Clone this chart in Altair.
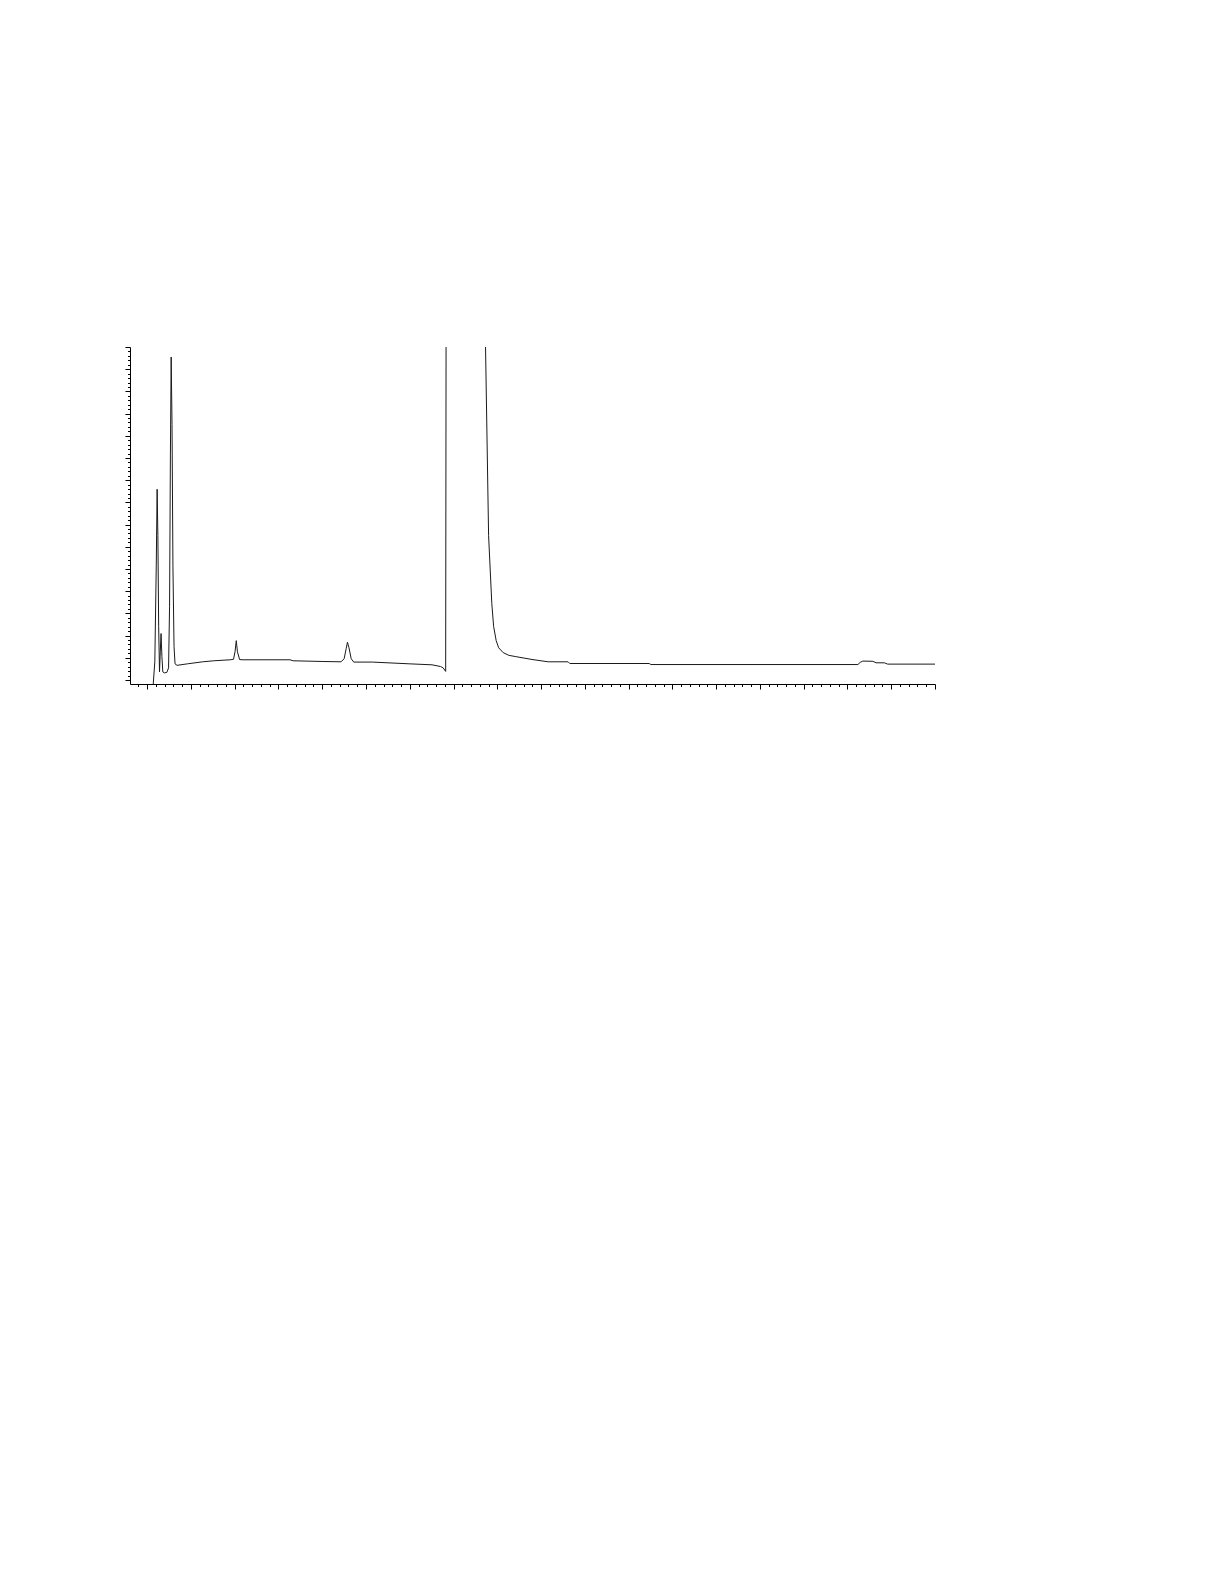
import altair as alt
import pandas as pd

# Retention time (min) and detector signal (arbitrary units)
time_min = [0.134, 0.175, 0.208, 0.228, 0.245, 0.263, 0.282, 0.300, 0.318, 0.337,
            0.358, 0.392, 0.450, 0.489, 0.512, 0.531, 0.549, 0.568, 0.589, 0.614,
            0.637, 0.683, 0.923, 1.269, 1.523, 1.899, 1.973, 2.008, 2.036, 2.063,
            2.112, 2.192, 3.263, 3.337, 4.016, 4.431, 4.500, 4.547, 4.576, 4.611,
            4.662, 4.720, 5.147, 5.987, 6.508, 6.704, 6.762, 6.820, 6.845, 7.270,
            7.651, 7.731, 7.801, 7.874, 7.916, 7.974, 8.031, 8.135, 8.262, 8.424,
            8.793, 9.162, 9.617, 9.656, 11.470, 11.509, 16.238, 16.293, 16.351, 16.580,
            16.654, 16.843, 16.919, 18.0]
signal = [-3.18, 8.18, 51.4, 85.9, 65.0, 24.1, 3.64, 12.7, 20.9, 10.5,
          3.64, 3.18, 3.41, 5.45, 33.2, 101.4, 145.5, 115.0, 51.4, 15.0,
          7.27, 6.59, 7.27, 8.18, 8.64, 9.09, 9.32, 12.7, 17.7, 12.7,
          9.18, 9.09, 9.09, 8.64, 8.32, 8.18, 9.55, 14.1, 17.0, 14.5,
          9.55, 8.05, 8.05, 7.27, 6.82, 6.05, 5.45, 3.86, 400.0, 600.0,
          250.0, 150.0, 65.0, 34.5, 24.1, 17.7, 14.5, 12.3, 11.1, 10.5,
          9.23, 8.18, 8.18, 7.41, 7.41, 6.95, 6.95, 7.95, 8.50, 8.41,
          7.73, 7.73, 7.14, 7.14]

x_tick_values = [round(-0.2 + 0.2 * k, 1) for k in range(0, 92)]
y_tick_values = list(range(0, 152, 2))

df = pd.DataFrame({"t": time_min, "s": signal})

x_axis = alt.Axis(
    title=None, labels=False, grid=False, values=x_tick_values,
    domainColor="#000000", tickColor="#000000", domainWidth=1, tickWidth=1,
    tickSize={"condition": {"test": "abs(datum.value - round(datum.value)) < 0.001", "value": 5}, "value": 2.5},
)
y_axis = alt.Axis(
    title=None, labels=False, grid=False, values=y_tick_values,
    domainColor="#000000", tickColor="#000000", domainWidth=1, tickWidth=1,
    tickSize={"condition": {"test": "datum.value % 10 === 0", "value": 5}, "value": 2.5},
)

chart = alt.Chart(df).mark_line(clip=True, color="#1a1a1a", strokeWidth=1).encode(
    x=alt.X("t:Q", scale=alt.Scale(domain=[-0.392, 18.0], nice=False, zero=False), axis=x_axis),
    y=alt.Y("s:Q", scale=alt.Scale(domain=[-1.82, 150.0], nice=False, zero=False), axis=y_axis),
    order=alt.Order("t:Q"),
).properties(
    width=805, height=337,
    padding={"left": 116, "top": 338, "right": 20, "bottom": 20},
).configure_view(strokeWidth=0)

chart.save("out.html", embed_options={"renderer": "svg", "actions": False})
